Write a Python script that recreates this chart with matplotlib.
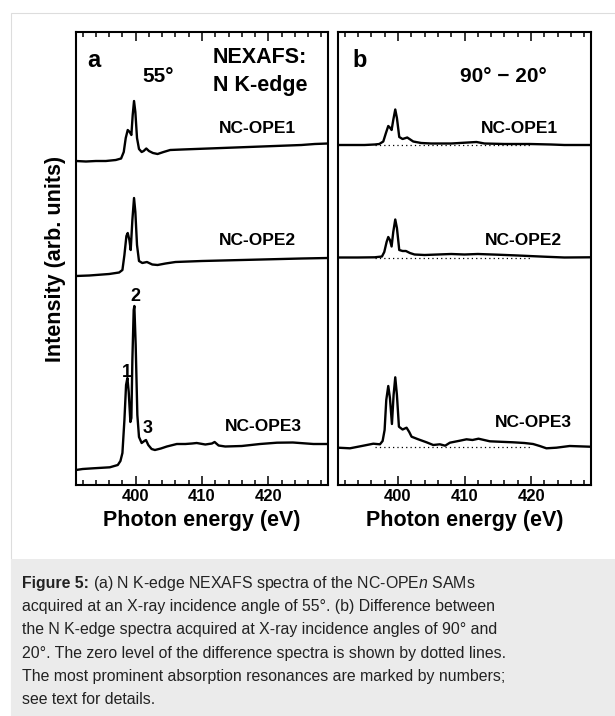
import matplotlib
matplotlib.use("Agg")
import matplotlib.pyplot as plt
from matplotlib.patches import Rectangle
from matplotlib.ticker import MultipleLocator

plt.rcParams['font.family'] = ['Liberation Sans', 'DejaVu Sans']
plt.rcParams['mathtext.fontset'] = 'custom'
plt.rcParams['mathtext.bf'] = 'Liberation Sans:bold'
plt.rcParams['mathtext.it'] = 'Liberation Sans:italic'
plt.rcParams['mathtext.rm'] = 'Liberation Sans'

# panel a: 55 deg spectra (offset already included), photon energy in eV
e_a1 = [391.0, 392.5, 394.0, 395.5, 397.0, 397.8, 398.2, 398.5, 398.8, 399.1, 399.35, 399.55,
        399.75, 399.95, 400.2, 400.5, 400.9, 401.2, 401.6, 402.0, 402.6, 403.3, 404.2, 405.2,
        407, 409, 411, 413, 415, 417, 419, 421, 423, 425, 427, 429]
i_a1 = [32.4, 32.35, 32.4, 32.4, 32.5, 32.65, 33.3, 34.7, 35.5, 35.3, 35.0, 37.0,
        38.4, 37.3, 34.7, 33.6, 33.3, 33.4, 33.65, 33.4, 33.2, 33.1, 33.3, 33.5,
        33.55, 33.6, 33.65, 33.7, 33.75, 33.8, 33.85, 33.9, 33.95, 34.0, 34.1, 34.15]

e_a2 = [391, 393, 396, 397.5, 398.0, 398.3, 398.6, 398.8, 399.05, 399.25, 399.5, 399.75,
        399.95, 400.2, 400.5, 401, 401.7, 402.5, 403.3, 404.5, 406, 408, 410, 413, 416,
        419, 422, 425, 429]
i_a2 = [20.9, 20.95, 21.1, 21.25, 21.5, 23.0, 24.9, 25.2, 24.5, 23.5, 26.5, 28.7,
        27.3, 24.0, 22.4, 22.2, 22.3, 22.05, 22.0, 22.15, 22.3, 22.35, 22.4, 22.45, 22.5,
        22.55, 22.6, 22.65, 22.7]

e_a3 = [391, 392, 393.6, 396.1, 397.3, 397.7, 398.0, 398.3, 398.55, 398.75, 398.95, 399.2,
        399.35, 399.5, 399.7, 399.8, 400.0, 400.25, 400.5, 400.9, 401.3, 401.55, 401.9, 402.4,
        402.9, 403.8, 404.7, 406.2, 407.5, 408.5, 409.2, 410.5, 411.5, 411.9, 412.5, 413.5,
        416, 418.75, 421.3, 423.7, 426.8, 429]
i_a3 = [1.5, 1.6, 1.67, 1.77, 2.0, 2.4, 3.2, 6.5, 10.0, 10.7, 9.3, 6.3,
        6.7, 12.5, 17.5, 17.9, 14.0, 7.0, 4.8, 4.2, 4.4, 4.5, 4.0, 3.6,
        3.5, 3.65, 3.85, 4.1, 4.1, 4.15, 4.2, 4.05, 4.15, 4.3, 3.95, 3.85,
        3.9, 4.1, 4.23, 4.25, 4.1, 4.1]

# panel b: 90 deg - 20 deg difference spectra (offset included)
e_b1 = [391, 393, 395, 396.5, 397.2, 397.8, 398.2, 398.55, 398.85, 399.05, 399.3, 399.6,
        399.85, 400.2, 400.7, 401.4, 402.3, 403.5, 405, 408, 411.8, 413, 416, 419.8,
        423, 425, 429]
i_b1 = [34.0, 34.0, 34.0, 34.05, 34.1, 34.35, 35.2, 35.9, 35.7, 35.5, 36.5, 37.55,
        36.7, 34.8, 34.6, 34.75, 34.35, 34.2, 34.15, 34.15, 34.3, 34.15, 34.1, 34.1,
        34.05, 34.0, 34.0]

e_b2 = [391, 394, 396.5, 397.6, 397.95, 398.3, 398.55, 398.8, 399.05, 399.3, 399.6, 399.85,
        400.2, 400.7, 401.2, 401.8, 402.5, 404, 406, 408, 410, 412, 415, 418, 422, 425, 429]
i_b2 = [22.75, 22.75, 22.77, 22.85, 23.3, 24.3, 24.8, 24.5, 23.85, 25.3, 26.55, 25.7,
        23.5, 23.4, 23.4, 23.2, 23.05, 23.0, 23.05, 23.1, 23.05, 23.1, 23.03, 22.95,
        22.83, 22.75, 22.77]

e_b3 = [391, 392.8, 394.8, 396.3, 397.3, 397.7, 398.0, 398.25, 398.55, 398.8, 399.1, 399.35,
        399.6, 399.85, 400.15, 400.7, 401.3, 401.7, 402.05, 403.05, 404.3, 405.3, 406.3,
        407.1, 407.8, 409.3, 410.3, 411.2, 412.1, 413.8, 415.5, 417.3, 419, 420.3, 421.3,
        422.3, 423.8, 425.8, 428.8]
i_b3 = [3.73, 3.67, 3.93, 4.13, 4.07, 4.4, 5.5, 8.5, 9.9, 8.7, 6.1, 9.0,
        10.77, 9.0, 5.83, 5.55, 5.73, 5.3, 4.83, 4.57, 4.27, 4.0, 4.07,
        3.93, 4.23, 4.43, 4.57, 4.5, 4.63, 4.37, 4.32, 4.27, 4.2, 4.1, 3.9,
        3.67, 3.73, 3.9, 3.83]

zero_b = [34.0, 22.75, 3.83]
zero_range = (396.5, 420.0)

names = ["NC-OPE1", "NC-OPE2", "NC-OPE3"]
label_pos_a = [(418.3, 35.2), (418.3, 24.0), (419.3, 5.4)]
label_pos_b = [(418.3, 35.2), (418.8, 24.0), (420.3, 5.8)]
peak_marks = ["1", "2", "3"]
peak_pos = [(398.7, 10.8), (399.9, 18.4), (401.86, 5.2)]

fig = plt.figure(figsize=(6.15, 7.16), dpi=100)
W, H = 615.0, 716.0

# page frame and caption box
fig.patches.append(Rectangle((10.5 / W, -0.1), 1.2, (716 - 12.5) / H + 0.1, transform=fig.transFigure,
                             facecolor="none", edgecolor="#dddddd", lw=0.8, zorder=0))
fig.patches.append(Rectangle((10.5 / W, 0), 1.0, (716 - 559) / H, transform=fig.transFigure,
                             facecolor="#ebebeb", edgecolor="none", zorder=0))

ax_a = fig.add_axes([76 / W, 1 - 485 / H, 252 / W, 453 / H])
ax_b = fig.add_axes([338 / W, 1 - 485 / H, 253 / W, 453 / H])

lw = 1.7
ax_a.plot(e_a1, i_a1, color="black", lw=lw)
ax_a.plot(e_a2, i_a2, color="black", lw=lw)
ax_a.plot(e_a3, i_a3, color="black", lw=lw)

for z in zero_b:
    ax_b.plot(zero_range, [z, z], color="black", lw=0.9, ls=(0, (1, 2.5)))
ax_b.plot(e_b1, i_b1, color="black", lw=lw)
ax_b.plot(e_b2, i_b2, color="black", lw=lw)
ax_b.plot(e_b3, i_b3, color="black", lw=lw)

for ax in (ax_a, ax_b):
    ax.set_xlim(391, 429)
    ax.set_ylim(0, 45.3)
    ax.set_yticks([])
    ax.xaxis.set_major_locator(MultipleLocator(10))
    ax.xaxis.set_minor_locator(MultipleLocator(2))
    ax.tick_params(axis="x", which="major", direction="in", top=True, length=6.5, width=1.1,
                   labelsize=12, pad=3)
    ax.tick_params(axis="x", which="minor", direction="in", top=True, length=3.6, width=1.1)
    for lab in ax.get_xticklabels():
        lab.set_fontweight("bold")
    for s in ax.spines.values():
        s.set_linewidth(1.5)
    ax.set_xlabel("Photon energy (eV)", fontsize=15.5, fontweight="bold", labelpad=4)

ax_a.set_ylabel("Intensity (arb. units)", fontsize=15.5, fontweight="bold", labelpad=7)

tb = dict(fontweight="bold", va="baseline")
ax_a.text(392.66, 41.8, "a", fontsize=17, ha="left", **tb)
ax_a.text(403.37, 40.3, "55°", fontsize=15, ha="center", **tb)
ax_a.text(411.66, 42.2, "NEXAFS:", fontsize=15.5, ha="left", **tb)
ax_a.text(411.66, 39.4, "N K-edge", fontsize=15.5, ha="left", **tb)
ax_b.text(393.1, 41.8, "b", fontsize=17, ha="left", **tb)
ax_b.text(415.8, 40.3, "90° − 20°", fontsize=15, ha="center", **tb)

for n, (x, y) in zip(names, label_pos_a):
    ax_a.text(x, y, n, fontsize=12.5, ha="center", **tb)
for n, (x, y) in zip(names, label_pos_b):
    ax_b.text(x, y, n, fontsize=12.5, ha="center", **tb)
for m, (x, y) in zip(peak_marks, peak_pos):
    ax_a.text(x, y, m, fontsize=13, ha="center", **tb)

# caption
cap_size = 11.4
cap_color = "#222222"
caption = [
    r"(a) N K-edge NEXAFS spectra of the NC-OPE$\mathit{n}$ SAMs",
    "acquired at an X-ray incidence angle of 55°. (b) Difference between",
    "the N K-edge spectra acquired at X-ray incidence angles of 90° and",
    "20°. The zero level of the difference spectra is shown by dotted lines.",
    "The most prominent absorption resonances are marked by numbers;",
    "see text for details.",
]
renderer = fig.canvas.get_renderer()
y0 = 1 - 583 / H
head = fig.text(22 / W, y0, "Figure 5:", fontsize=cap_size, fontweight="bold",
                color=cap_color, ha="left", va="baseline")
bb = head.get_window_extent(renderer=renderer)
space = cap_size * 100 / 72 * 0.278
for k, line in enumerate(caption):
    ypix = 588 + k * 23.2
    x = (bb.x1 + space) / W if k == 0 else 22 / W
    fig.text(x, 1 - ypix / H, line, fontsize=cap_size, color=cap_color, ha="left", va="baseline")
head.set_y(1 - 588 / H)

fig.savefig("out.png", dpi=100, facecolor="white")
